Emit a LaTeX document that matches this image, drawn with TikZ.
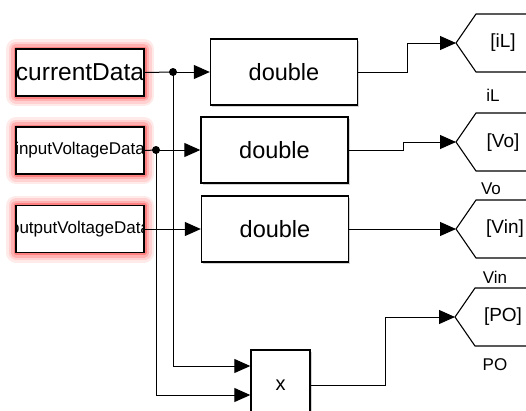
\documentclass[tikz,border=0pt]{standalone}
\usepackage{fontspec}
\setmainfont{Liberation Sans}
\usetikzlibrary{arrows.meta,shadows}
\begin{document}
\begin{tikzpicture}[x=1pt,y=-1pt,
  wire/.style={line width=1pt, draw=black},
  sig/.style={wire, -{Triangle[length=16pt,width=14pt]}},
  junction/.style={circle, fill=black, inner sep=0pt, minimum size=8pt},
  convblock/.style={draw, line width=1.4pt, fill=white, minimum width=147pt,
    minimum height=66pt, inner sep=0pt, font=\fontsize{23.5}{25}\selectfont,
    drop shadow={shadow xshift=1.6pt, shadow yshift=-1.6pt, opacity=0.35}},
  prodblock/.style={convblock, minimum width=59pt, minimum height=70pt,
    font=\fontsize{20}{22}\selectfont},
  redglow/.style={
    preaction={draw=red!80, line width=20pt, draw opacity=0.10, line join=round},
    preaction={draw=red!80, line width=15pt, draw opacity=0.14, line join=round},
    preaction={draw=red!80, line width=10pt, draw opacity=0.20, line join=round},
    preaction={draw=red, line width=5pt, draw opacity=0.28, line join=round}},
  srcblock/.style={draw, line width=1.4pt, fill=white, redglow,
    minimum width=128pt, minimum height=47pt, inner sep=0pt},
  srcfont/.style={font=\fontsize{#1}{#1}\selectfont, inner sep=0pt},
  tagline/.style={line width=1.1pt, draw=black},
  tagtext/.style={font=\fontsize{19}{21}\selectfont},
  taglabel/.style={font=\fontsize{17}{19}\selectfont},
]
\useasboundingbox (0,0) rectangle (526,410);

% data sources (text clipped to the box)
\node[srcblock, path picture={\node[srcfont=24.5] at (path picture bounding box.center) {currentData};}]
  (cd) at (80,72.5) {};
\node[srcblock, path picture={\node[srcfont=17] at (path picture bounding box.center) {inputVoltageData};}]
  (ivd) at (80,150.5) {};
\node[srcblock, path picture={\node[srcfont=17] at (path picture bounding box.center) {outputVoltageData};}]
  (ovd) at (80,229) {};

% type conversions and product
\node[convblock] (d1) at (284,72) {double};
\node[convblock] (d2) at (274.5,150) {double};
\node[convblock] (d3) at (275,229) {double};
\node[prodblock] (xb) at (280.5,385) {x};

% goto tags
\coordinate (gIL) at (456,43);
\coordinate (gVo) at (456,142);
\coordinate (gVin) at (456,229);
\coordinate (gPO) at (455,317);
\draw[tagline] (540,14) -- (476,14) -- (gIL) -- (476,72) -- (540,72);
\draw[tagline] (540,113) -- (476,113) -- (gVo) -- (476,171) -- (540,171);
\draw[tagline] (540,200) -- (476,200) -- (gVin) -- (476,258) -- (540,258);
\draw[tagline] (540,288) -- (475,288) -- (gPO) -- (475,346) -- (540,346);
\node[tagtext] (tIL) at (503,43) {[iL]};
\node[tagtext] (tVo) at (503,143) {[Vo]};
\node[tagtext] (tVin) at (505,229) {[Vin]};
\node[tagtext] (tPO) at (503,317) {[PO]};
\node[taglabel] (lIL) at (493,95) {iL};
\node[taglabel] (lVo) at (491,189) {Vo};
\node[taglabel] (lVin) at (495,277) {Vin};
\node[taglabel] (lPO) at (495,365) {PO};

% branch points
\node[junction] (j1) at (173,72) {};
\node[junction] (j2) at (156,150) {};
\coordinate (xin1) at ([yshift=19pt]xb.west);
\coordinate (xin2) at ([yshift=-10pt]xb.west);

% signal lines
\draw[wire] (cd.east) -- (j1.center);
\draw[sig] (j1.center) -- (d1.west);
\draw[sig] (j1.center) |- (xin1);
\draw[wire] (ivd.east) -- (j2.center);
\draw[sig] (j2.center) -- (d2.west);
\draw[sig] (j2.center) |- (xin2);
\draw[sig] (ovd.east) -- (d3.west);

\draw[sig] (d1.east) -- ++(49,0) |- (gIL);
\draw[sig] (d2.east) -- ++(55,0) |- (gVo);
\draw[sig] (d3.east) -- (gVin);
\draw[sig] (xb.east) -- ++(75,0) |- (gPO);
\end{tikzpicture}
\end{document}
